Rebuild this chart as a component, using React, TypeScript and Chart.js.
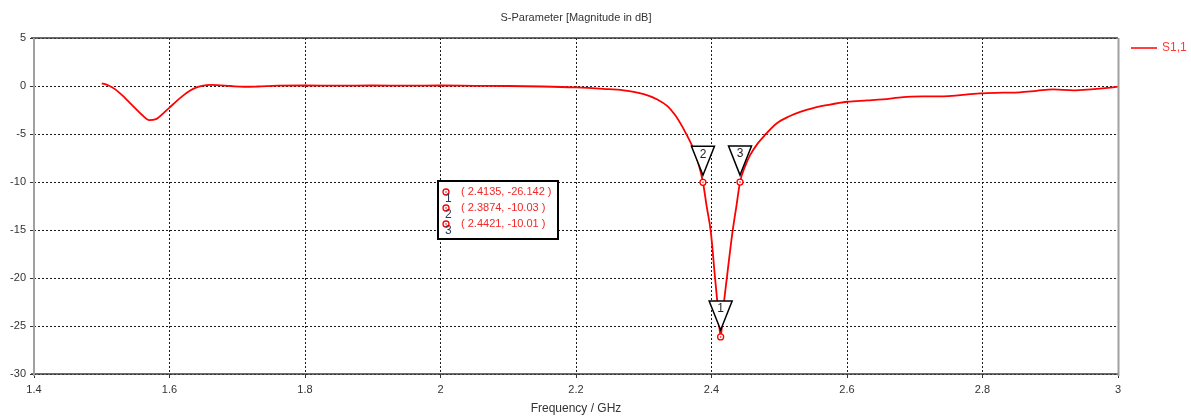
import { useEffect, useRef } from "react";
import { Chart, registerables } from "chart.js";
Chart.register(...registerables);

const chartTitle = "S-Parameter [Magnitude in dB]";
const xAxisTitle = "Frequency / GHz";
const seriesLabel = "S1,1";

const freqGHz = [
  1.5, 1.51, 1.52, 1.53, 1.54, 1.55, 1.56, 1.57, 1.58, 1.59, 1.6, 1.61, 1.62, 1.63, 1.64, 1.65,
  1.66, 1.67, 1.69, 1.71, 1.73, 1.76, 1.8, 1.85, 1.9, 1.95, 2.0, 2.05, 2.1, 2.15, 2.2, 2.24,
  2.27, 2.3, 2.32, 2.335, 2.346, 2.355, 2.362, 2.373, 2.38, 2.3874, 2.393, 2.399, 2.405, 2.409,
  2.4135, 2.418, 2.423, 2.431, 2.437, 2.4421, 2.45, 2.457, 2.468, 2.479, 2.496, 2.515, 2.531,
  2.55, 2.57, 2.6, 2.63, 2.653, 2.683, 2.72, 2.75, 2.796, 2.83, 2.855, 2.88, 2.904, 2.934,
  2.96, 2.985, 3.0,
];
const s11dB = [
  0.28, 0.05, -0.35, -0.95, -1.65, -2.35, -3.05, -3.55, -3.45, -2.9, -2.25, -1.6, -1.0, -0.5,
  -0.15, 0.05, 0.12, 0.1, 0.0, -0.08, -0.05, 0.03, 0.05, 0.03, 0.05, 0.03, 0.05, 0.02, 0.0,
  -0.05, -0.15, -0.3, -0.45, -0.85, -1.4, -2.1, -3.0, -4.0, -4.9, -6.5, -7.9, -10.03, -12.6,
  -15.2, -19.8, -22.8, -26.142, -22.8, -19.8, -15.2, -12.4, -10.01, -8.3, -7.2, -6.0, -5.1,
  -3.9, -3.15, -2.7, -2.3, -2.0, -1.64, -1.5, -1.39, -1.15, -1.08, -1.05, -0.77, -0.7, -0.66,
  -0.5, -0.35, -0.45, -0.35, -0.2, -0.07,
];

const markerIds = ["1", "2", "3"];
const markerFreq = [2.4135, 2.3874, 2.4421];
const markerDB = [-26.142, -10.03, -10.01];
const markerText = ["( 2.4135, -26.142 )", "( 2.3874, -10.03 )", "( 2.4421, -10.01 )"];

const FONT = "'Liberation Sans', Arial, sans-serif";
const RED = "#ff0000";

export default function App() {
  const ref = useRef<HTMLCanvasElement>(null);

  useEffect(() => {
    document.body.style.margin = "0";
    const overlay = {
      id: "cstOverlay",
      afterDatasetsDraw(chart: any) {
        const ctx = chart.ctx as CanvasRenderingContext2D;
        const xs = chart.scales.x;
        const ys = chart.scales.y;
        ctx.save();
        markerIds.forEach((id, i) => {
          const px = xs.getPixelForValue(markerFreq[i]);
          const py = ys.getPixelForValue(markerDB[i]);
          const tipY = py - 7;
          const topY = tipY - 29;
          ctx.beginPath();
          ctx.moveTo(px - 11.5, topY);
          ctx.lineTo(px + 11.5, topY);
          ctx.lineTo(px, tipY);
          ctx.closePath();
          ctx.fillStyle = "#ffffff";
          ctx.fill();
          ctx.lineWidth = 1.5;
          ctx.strokeStyle = "#000000";
          ctx.stroke();
          ctx.fillStyle = "#222222";
          ctx.font = `12px ${FONT}`;
          ctx.textAlign = "center";
          ctx.textBaseline = "middle";
          ctx.fillText(id, px, topY + 8);
          ctx.beginPath();
          ctx.arc(px, py, 3, 0, Math.PI * 2);
          ctx.fillStyle = "#ffffff";
          ctx.fill();
          ctx.lineWidth = 1.3;
          ctx.strokeStyle = RED;
          ctx.stroke();
          ctx.beginPath();
          ctx.arc(px, py, 0.8, 0, Math.PI * 2);
          ctx.fillStyle = RED;
          ctx.fill();
        });
        const bx = 438, by = 181, bw = 120, bh = 58;
        ctx.fillStyle = "#ffffff";
        ctx.fillRect(bx, by, bw, bh);
        ctx.lineWidth = 2;
        ctx.strokeStyle = "#000000";
        ctx.strokeRect(bx, by, bw, bh);
        markerIds.forEach((id, i) => {
          const cy = by + 11 + i * 16;
          ctx.beginPath();
          ctx.arc(bx + 8, cy, 3, 0, Math.PI * 2);
          ctx.lineWidth = 1.3;
          ctx.strokeStyle = RED;
          ctx.stroke();
          ctx.beginPath();
          ctx.arc(bx + 8, cy, 0.8, 0, Math.PI * 2);
          ctx.fillStyle = RED;
          ctx.fill();
          ctx.textAlign = "left";
          ctx.textBaseline = "middle";
          ctx.font = `12px ${FONT}`;
          ctx.fillStyle = "#2c3a5c";
          ctx.fillText(id, bx + 7, cy + 7);
          ctx.font = `11px ${FONT}`;
          ctx.fillStyle = "#f02828";
          ctx.fillText(markerText[i], bx + 23, cy);
        });
        ctx.restore();
      },
      afterDraw(chart: any) {
        const ctx = chart.ctx as CanvasRenderingContext2D;
        const a = chart.chartArea;
        ctx.save();
        ctx.strokeStyle = "#3c3c3c";
        ctx.lineWidth = 1.5;
        ctx.beginPath();
        ctx.moveTo(a.left - 3, a.top);
        ctx.lineTo(a.right, a.top);
        ctx.moveTo(a.left - 3, a.bottom);
        ctx.lineTo(a.right, a.bottom);
        ctx.stroke();
        ctx.strokeStyle = "#a0a0a0";
        ctx.lineWidth = 2;
        ctx.beginPath();
        ctx.moveTo(a.left, a.top);
        ctx.lineTo(a.left, a.bottom + 2);
        ctx.moveTo(a.right + 0.5, a.top);
        ctx.lineTo(a.right + 0.5, a.bottom + 2);
        ctx.stroke();
        ctx.fillStyle = "#333333";
        ctx.font = `11px ${FONT}`;
        ctx.textAlign = "center";
        ctx.textBaseline = "middle";
        ctx.fillText(chartTitle, (a.left + a.right) / 2, 18);
        ctx.strokeStyle = RED;
        ctx.lineWidth = 1.5;
        ctx.beginPath();
        ctx.moveTo(a.right + 13, 48);
        ctx.lineTo(a.right + 39, 48);
        ctx.stroke();
        ctx.fillStyle = "#ff3a3a";
        ctx.textAlign = "left";
        ctx.font = `12px ${FONT}`;
        ctx.fillText(seriesLabel, a.right + 44, 48);
        ctx.restore();
      },
    };

    const chart = new Chart(ref.current!, {
      type: "scatter",
      data: {
        datasets: [
          {
            label: seriesLabel,
            data: freqGHz.map((f, i) => ({ x: f, y: s11dB[i] })),
            showLine: true,
            borderColor: RED,
            backgroundColor: RED,
            borderWidth: 1.8,
            pointRadius: 0,
            cubicInterpolationMode: "monotone",
          } as any,
        ],
      },
      options: {
        animation: false,
        responsive: false,
        devicePixelRatio: 1,
        layout: { padding: { top: 38, right: 73, left: 0, bottom: 0 } },
        plugins: { legend: { display: false }, tooltip: { enabled: false } },
        scales: {
          x: {
            type: "linear",
            min: 1.4,
            max: 3,
            afterFit: (s: any) => {
              s.height = 42;
            },
            ticks: {
              stepSize: 0.2,
              padding: 5,
              color: "#333333",
              font: { family: FONT, size: 11 },
              maxRotation: 0,
              callback: (v: any) => String(Number(Number(v).toFixed(1))),
            },
            grid: {
              color: "#1a1a1a",
              lineWidth: 1,
              drawTicks: true,
              tickLength: 4,
              tickColor: "#333333",
              tickBorderDash: [],
            } as any,
            border: { display: false, dash: [2, 2] },
            title: {
              display: true,
              text: xAxisTitle,
              color: "#333333",
              font: { family: FONT, size: 12 },
              padding: { top: 0, bottom: 0 },
            },
          },
          y: {
            type: "linear",
            min: -30,
            max: 5,
            afterFit: (s: any) => {
              s.width = 34;
            },
            ticks: {
              stepSize: 5,
              padding: 4,
              color: "#333333",
              font: { family: FONT, size: 11 },
            },
            grid: {
              color: "#1a1a1a",
              lineWidth: 1,
              drawTicks: true,
              tickLength: 4,
              tickColor: "#333333",
              tickBorderDash: [],
            } as any,
            border: { display: false, dash: [2, 2] },
          },
        },
      },
      plugins: [overlay],
    });
    return () => chart.destroy();
  }, []);

  return (
    <div style={{ position: "absolute", left: 0, top: 0, width: 1191, height: 416, background: "#ffffff" }}>
      <canvas ref={ref} width={1191} height={416} />
    </div>
  );
}
